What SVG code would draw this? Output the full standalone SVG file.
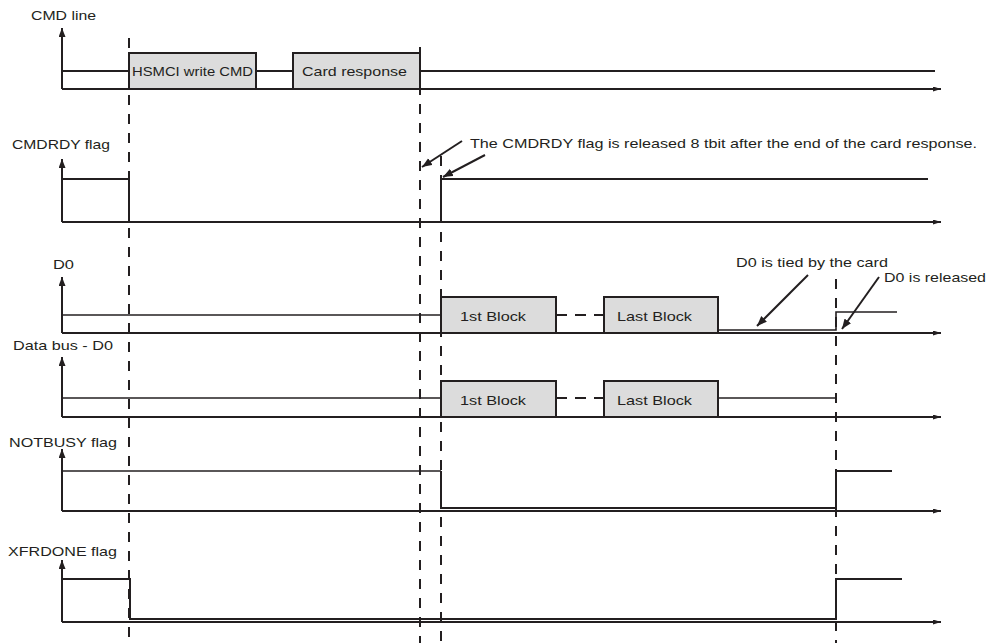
<svg xmlns="http://www.w3.org/2000/svg" width="990" height="643" viewBox="0 0 990 643">
<style>
text{font-family:"Liberation Sans",Arial,sans-serif;font-size:13.5px;fill:#231f20}
.ax{stroke:#231f20;stroke-width:2;fill:none}
.sig{stroke:#231f20;stroke-width:2;fill:none}
.thin{stroke:#231f20;stroke-width:1.6;fill:none}
.box{fill:#dcdcdc;stroke:#231f20;stroke-width:2}
.dash{stroke:#231f20;stroke-width:2;stroke-dasharray:10,9;fill:none}
.ann{stroke:#231f20;stroke-width:2;fill:none}
</style>
<defs>
<marker id="ah" markerUnits="userSpaceOnUse" markerWidth="10" markerHeight="8" refX="9" refY="3.5" orient="auto"><path d="M0,0 L9,3.5 L0,7 z" fill="#231f20"/></marker>
<marker id="hx" markerUnits="userSpaceOnUse" markerWidth="9" markerHeight="6" refX="8" refY="2.5" orient="auto"><path d="M0,0 L8,2.5 L0,5 z" fill="#231f20"/></marker>
<marker id="an" markerUnits="userSpaceOnUse" markerWidth="11" markerHeight="9" refX="10" refY="4" orient="auto"><path d="M0,0 L10,4 L0,8 z" fill="#231f20"/></marker>
</defs>

<g id="timing-markers">
<line class="dash" x1="129" y1="38" x2="129" y2="643"/>
<line class="dash" x1="420" y1="47" x2="420" y2="643"/>
<line class="dash" x1="441" y1="156" x2="441" y2="643"/>
<line class="dash" x1="836" y1="279" x2="836" y2="643"/>
</g>

<g id="cmd-line">
<text x="31" y="20" textLength="65" lengthAdjust="spacingAndGlyphs">CMD line</text>
<line class="ax" x1="62" y1="89" x2="62" y2="28" marker-end="url(#ah)"/>
<line class="ax" x1="62" y1="89" x2="941" y2="89" marker-end="url(#hx)"/>
<polyline class="sig" points="62,71 129,71"/>
<polyline class="sig" points="256,71 293,71"/>
<polyline class="sig" points="420,71 935,71"/>
</g>
<g id="box-hsmci-write-cmd">
<rect class="box" x="129" y="53" width="127" height="36"/>
<text x="132" y="76" textLength="121" lengthAdjust="spacingAndGlyphs">HSMCI write CMD</text>
</g>
<g id="box-card-response">
<rect class="box" x="293" y="53" width="127" height="36"/>
<text x="302" y="76" textLength="105" lengthAdjust="spacingAndGlyphs">Card response</text>
</g>

<g id="cmdrdy-flag">
<text x="12" y="149" textLength="98" lengthAdjust="spacingAndGlyphs">CMDRDY flag</text>
<line class="ax" x1="62" y1="222" x2="62" y2="159" marker-end="url(#ah)"/>
<line class="ax" x1="62" y1="222" x2="941" y2="222" marker-end="url(#hx)"/>
<polyline class="sig" points="62,179 129,179 129,222 441,222 441,179 928,179"/>
</g>

<g id="d0">
<text x="53" y="269" textLength="21" lengthAdjust="spacingAndGlyphs">D0</text>
<line class="ax" x1="62" y1="333" x2="62" y2="277" marker-end="url(#ah)"/>
<line class="ax" x1="62" y1="333" x2="941" y2="333" marker-end="url(#hx)"/>
<polyline class="thin" points="62,315 441,315"/>
<line class="sig" x1="556" y1="315" x2="604" y2="315" stroke-dasharray="11,8"/>
<polyline class="thin" points="718,330 836,330 836,312 897,312"/>
<text x="736" y="267" textLength="152" lengthAdjust="spacingAndGlyphs">D0 is tied by the card</text>
<text x="884" y="282" textLength="102" lengthAdjust="spacingAndGlyphs">D0 is released</text>
</g>
<g id="d0-first-block">
<rect class="box" x="441" y="297" width="115" height="36"/>
<text x="460" y="321" textLength="66" lengthAdjust="spacingAndGlyphs">1st Block</text>
</g>
<g id="d0-last-block">
<rect class="box" x="604" y="297" width="114" height="36"/>
<text x="617" y="321" textLength="75" lengthAdjust="spacingAndGlyphs">Last Block</text>
</g>

<g id="data-bus-d0">
<text x="13" y="350" textLength="100" lengthAdjust="spacingAndGlyphs">Data bus - D0</text>
<line class="ax" x1="62" y1="417" x2="62" y2="357" marker-end="url(#ah)"/>
<line class="ax" x1="62" y1="417" x2="941" y2="417" marker-end="url(#hx)"/>
<polyline class="thin" points="62,398 441,398"/>
<line class="sig" x1="556" y1="398" x2="604" y2="398" stroke-dasharray="11,8"/>
<polyline class="thin" points="718,398 836,398"/>
</g>
<g id="data-bus-first-block">
<rect class="box" x="441" y="381" width="115" height="36"/>
<text x="460" y="405" textLength="66" lengthAdjust="spacingAndGlyphs">1st Block</text>
</g>
<g id="data-bus-last-block">
<rect class="box" x="604" y="381" width="114" height="36"/>
<text x="617" y="405" textLength="75" lengthAdjust="spacingAndGlyphs">Last Block</text>
</g>

<g id="notbusy-flag">
<text x="9" y="447" textLength="108" lengthAdjust="spacingAndGlyphs">NOTBUSY flag</text>
<line class="ax" x1="62" y1="511" x2="62" y2="449" marker-end="url(#ah)"/>
<line class="ax" x1="62" y1="511" x2="941" y2="511" marker-end="url(#hx)"/>
<polyline class="thin" points="62,471 441,471"/>
<polyline class="sig" points="441,471 441,508 836,508 836,471 892,471"/>
</g>

<g id="xfrdone-flag">
<text x="8" y="556" textLength="109" lengthAdjust="spacingAndGlyphs">XFRDONE flag</text>
<line class="ax" x1="62" y1="622" x2="62" y2="560" marker-end="url(#ah)"/>
<line class="ax" x1="62" y1="622" x2="941" y2="622" marker-end="url(#hx)"/>
<polyline class="sig" points="62,579 130,579 130,619 836,619 836,579 902,579"/>
</g>

<g id="connectors">
<text x="470" y="148" textLength="507" lengthAdjust="spacingAndGlyphs">The CMDRDY flag is released 8 tbit after the end of the card response.</text>
<line class="ann" x1="462" y1="141" x2="422" y2="167" marker-end="url(#an)"/>
<line class="ann" x1="485" y1="155" x2="443" y2="177" marker-end="url(#an)"/>
<line class="ann" x1="808" y1="275" x2="757" y2="326" marker-end="url(#an)"/>
<line class="ann" x1="879" y1="277" x2="842" y2="329" marker-end="url(#an)"/>
</g>
</svg>
